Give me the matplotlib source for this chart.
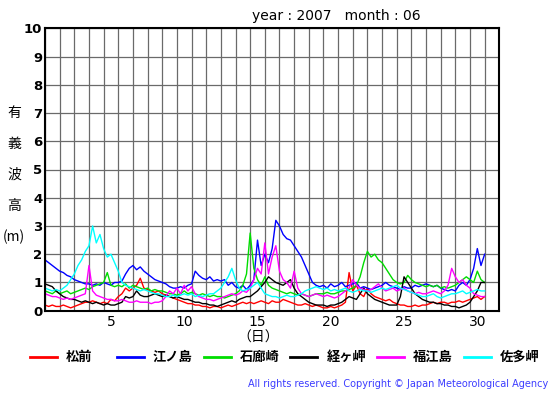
import numpy as np
import matplotlib
matplotlib.use("Agg")
import matplotlib.pyplot as plt
from matplotlib.lines import Line2D
from matplotlib.ticker import MultipleLocator

plt.rcParams['font.family'] = ['DejaVu Sans', 'Noto Sans CJK JP']
jp = ['Noto Sans CJK JP', 'DejaVu Sans']

# 6-hourly readings, 1 June 00h .. 1 July 00h
hours = np.arange(0, 721, 6)
days = hours / 24.0

stations = ["松前", "江ノ島", "石廊崎", "経ヶ岬", "福江島", "佐多岬"]
colors = ["#ff0000", "#0000ff", "#00dd00", "#000000", "#ff00ff", "#00ffff"]

# significant wave height (m)
matsumae = [
    0.2, 0.15, 0.2, 0.15,   0.15, 0.2, 0.15, 0.1,   0.15, 0.2, 0.25, 0.3,
    0.3, 0.35, 0.3, 0.25,   0.3, 0.25, 0.4, 0.35,   0.5, 0.6, 0.8, 0.7,
    0.8, 0.9, 1.15, 0.8,    0.75, 0.7, 0.65, 0.7,   0.6, 0.55, 0.5, 0.45,
    0.4, 0.35, 0.3, 0.25,   0.25, 0.2, 0.2, 0.15,   0.15, 0.1, 0.15, 0.15,
    0.1, 0.15, 0.2, 0.15,   0.2, 0.25, 0.3, 0.25,   0.3, 0.25, 0.3, 0.35,
    0.3, 0.25, 0.35, 0.3,   0.3, 0.4, 0.35, 0.3,    0.25, 0.2, 0.2, 0.25,
    0.2, 0.15, 0.2, 0.15,   0.1, 0.1, 0.15, 0.1,    0.15, 0.2, 0.3, 1.35,
    0.7, 0.9, 0.6, 0.5,     0.8, 0.6, 0.5, 0.45,    0.4, 0.35, 0.4, 0.3,
    0.25, 0.2, 0.2, 0.15,   0.15, 0.2, 0.15, 0.2,   0.2, 0.25, 0.3, 0.25,
    0.3, 0.3, 0.25, 0.3,    0.3, 0.35, 0.3, 0.35,   0.4, 0.45, 0.5, 0.4,
    0.5,
]
enoshima = [
    1.8, 1.7, 1.6, 1.5,     1.4, 1.35, 1.25, 1.2,   1.1, 1.05, 1.0, 0.95,
    0.95, 0.9, 0.95, 0.9,   1.0, 0.95, 0.9, 1.0,    1.0, 1.05, 1.3, 1.5,
    1.6, 1.45, 1.55, 1.4,   1.3, 1.2, 1.1, 1.05,    1.0, 0.95, 0.85, 0.8,
    0.8, 0.85, 0.8, 0.9,    0.95, 1.4, 1.25, 1.15,  1.1, 1.2, 1.05, 1.1,
    1.05, 1.1, 0.9, 1.0,    0.85, 0.8, 0.9, 0.75,   0.9, 1.1, 2.5, 1.6,
    2.0, 1.7, 2.2, 3.2,     3.0, 2.7, 2.55, 2.5,    2.3, 2.1, 1.9, 1.6,
    1.3, 1.0, 0.9, 0.85,    0.9, 0.8, 0.95, 0.85,   0.9, 1.0, 0.85, 0.9,
    0.95, 1.0, 0.8, 0.85,   0.8, 0.75, 0.8, 0.85,   0.9, 1.0, 0.9, 0.85,
    0.8, 0.75, 0.85, 0.8,   0.8, 0.9, 0.85, 0.9,    0.95, 0.9, 0.85, 0.9,
    0.8, 0.75, 0.7, 0.75,   0.7, 0.9, 1.0, 0.9,     1.1, 1.5, 2.2, 1.6,
    2.0,
]
irozaki = [
    0.7, 0.65, 0.6, 0.7,    0.6, 0.65, 0.7, 0.6,    0.65, 0.7, 0.75, 0.8,
    0.75, 0.85, 0.9, 0.95,  1.0, 1.35, 0.9, 0.85,   0.9, 0.85, 0.95, 0.8,
    0.9, 0.85, 0.8, 0.75,   0.8, 0.7, 0.75, 0.7,    0.7, 0.65, 0.6, 0.6,
    0.55, 0.6, 0.7, 0.6,    0.65, 0.6, 0.55, 0.6,   0.55, 0.5, 0.55, 0.5,
    0.5, 0.45, 0.5, 0.55,   0.6, 0.7, 0.9, 1.3,     2.75, 1.5, 1.1, 0.9,
    1.2, 0.9, 0.8, 0.75,    0.7, 0.65, 0.6, 0.65,   0.6, 0.55, 0.6, 0.55,
    0.5, 0.55, 0.6, 0.6,    0.6, 0.65, 0.6, 0.6,    0.65, 0.7, 0.7, 0.75,
    0.8, 0.9, 1.2, 1.7,     2.1, 1.9, 2.0, 1.8,     1.7, 1.5, 1.3, 1.1,
    1.0, 0.95, 1.0, 1.25,   1.1, 1.0, 0.95, 0.9,    0.85, 0.9, 0.85, 0.9,
    0.8, 0.85, 0.8, 0.85,   0.9, 1.0, 1.1, 1.2,     1.1, 1.0, 1.4, 1.1,
    1.0,
]
kyogamisaki = [
    0.95, 0.9, 0.85, 0.7,   0.6, 0.5, 0.45, 0.4,    0.4, 0.35, 0.3, 0.35,
    0.3, 0.25, 0.3, 0.25,   0.2, 0.25, 0.2, 0.2,    0.25, 0.3, 0.5, 0.45,
    0.5, 0.7, 0.55, 0.5,    0.5, 0.55, 0.6, 0.55,   0.5, 0.55, 0.5, 0.45,
    0.5, 0.45, 0.4, 0.4,    0.35, 0.3, 0.3, 0.25,   0.25, 0.2, 0.2, 0.15,
    0.2, 0.25, 0.3, 0.35,   0.3, 0.4, 0.45, 0.5,    0.5, 0.6, 0.7, 0.85,
    1.0, 1.2, 1.1, 1.0,     0.95, 0.9, 1.0, 1.1,    0.8, 0.6, 0.5, 0.4,
    0.3, 0.25, 0.2, 0.2,    0.2, 0.15, 0.2, 0.2,    0.25, 0.3, 0.4, 0.5,
    0.45, 0.4, 0.6, 0.8,    0.6, 0.5, 0.4, 0.35,    0.3, 0.25, 0.2, 0.2,
    0.2, 0.5, 1.2, 1.0,     0.8, 0.6, 0.5, 0.4,     0.35, 0.3, 0.3, 0.25,
    0.25, 0.2, 0.2, 0.15,   0.15, 0.1, 0.15, 0.2,   0.3, 0.5, 0.7, 1.0,
    1.0,
]
fukuejima = [
    0.6, 0.55, 0.5, 0.5,    0.45, 0.4, 0.45, 0.4,   0.45, 0.5, 0.55, 0.6,
    1.6, 0.7, 0.55, 0.5,    0.45, 0.4, 0.4, 0.35,   0.35, 0.4, 0.35, 0.3,
    0.3, 0.35, 0.3, 0.3,    0.3, 0.25, 0.3, 0.3,    0.35, 0.5, 0.7, 0.6,
    0.8, 0.6, 0.9, 0.7,     0.85, 0.6, 0.5, 0.45,   0.4, 0.4, 0.35, 0.4,
    0.45, 0.5, 0.55, 0.6,   0.55, 0.6, 0.7, 0.65,   0.8, 1.1, 1.5, 1.3,
    2.4, 1.3, 1.9, 2.3,     1.4, 1.1, 1.0, 0.8,     1.4, 0.8, 0.6, 0.55,
    0.5, 0.55, 0.6, 0.55,   0.5, 0.55, 0.5, 0.45,   0.5, 0.6, 0.7, 0.8,
    1.1, 0.9, 0.8, 0.75,    0.7, 0.75, 0.85, 0.95,  0.8, 0.7, 0.75, 0.8,
    0.7, 0.75, 0.8, 0.7,    0.65, 0.6, 0.65, 0.6,   0.6, 0.65, 0.7, 0.65,
    0.6, 0.7, 0.9, 1.5,     1.2, 1.0, 1.1, 0.9,     0.8, 0.6, 0.55, 0.5,
    0.5,
]
satamisaki = [
    0.8, 0.75, 0.7, 0.75,   0.7, 0.8, 0.9, 1.1,     1.3, 1.6, 1.8, 2.1,
    2.3, 3.0, 2.4, 2.7,     2.2, 1.9, 2.0, 1.7,     1.4, 1.0, 0.9, 0.85,
    0.8, 0.75, 0.7, 0.75,   0.7, 0.65, 0.6, 0.6,    0.55, 0.5, 0.5, 0.55,
    0.5, 0.55, 0.6, 0.55,   0.6, 0.5, 0.55, 0.5,    0.55, 0.6, 0.6, 0.7,
    0.8, 1.0, 1.2, 1.5,     1.1, 0.8, 0.7, 0.75,    0.8, 0.9, 1.0, 0.8,
    0.6, 0.55, 0.5, 0.5,    0.45, 0.5, 0.55, 0.5,   0.5, 0.55, 0.6, 0.7,
    0.75, 0.8, 0.85, 0.8,   0.75, 0.8, 0.7, 0.75,   0.7, 0.75, 0.8, 0.7,
    0.65, 0.7, 0.75, 0.7,   0.7, 0.65, 0.7, 0.75,   0.8, 0.75, 0.8, 0.85,
    0.9, 0.8, 0.75, 0.7,    0.65, 0.6, 0.55, 0.5,   0.5, 0.55, 0.6, 0.5,
    0.45, 0.5, 0.55, 0.6,   0.6, 0.65, 0.7, 0.6,    0.65, 0.7, 0.75, 0.7,
    0.7,
]
series = [matsumae, enoshima, irozaki, kyogamisaki, fukuejima, satamisaki]

day_ticks = [5, 10, 15, 20, 25, 30]

W, H = 555, 395
fig = plt.figure(figsize=(W / 100, H / 100), dpi=100)
ax = fig.add_axes([45 / W, 1 - 310.7 / H, 454.3 / W, 282.4 / H])

for vals, c in zip(series, colors):
    ax.plot(days, vals, color=c, lw=1.0)

ax.set_xlim(0, 31)
ax.set_ylim(0, 10)
ax.set_xticks([d - 0.5 for d in day_ticks])
ax.set_xticklabels([str(d) for d in day_ticks])
ax.xaxis.set_minor_locator(MultipleLocator(1))
ax.set_yticks(range(0, 11))
ax.tick_params(which='both', length=0)
ax.tick_params(axis='x', labelsize=10, pad=3)
ax.tick_params(axis='y', labelsize=9.5, pad=2)
for lab in ax.get_yticklabels():
    lab.set_fontweight('bold')
ax.grid(False)
ax.grid(True, which='minor', axis='x', color='#6a6a6a', lw=0.9)
ax.grid(True, which='major', axis='y', color='#6a6a6a', lw=0.9)
ax.set_axisbelow(True)
for sp in ax.spines.values():
    sp.set_linewidth(1.5)

fig.text(336 / W, 1 - 16 / H, "year : 2007   month : 06", ha='center', va='center', fontsize=10)

for i, ch in enumerate(["有", "義", "波", "高", "(m)"]):
    fig.text(14 / W, 1 - (113 + 31 * i) / H, ch, ha='center', va='center',
             fontsize=10, family=jp)

fig.text(258 / W, 1 - 338 / H, "（日）", ha='center', va='center', fontsize=10, family=jp)

# legend row
for i, (name, c) in enumerate(zip(stations, colors)):
    x0 = 30 + 86.8 * i
    fig.add_artist(Line2D([x0 / W, (x0 + 27) / W], [1 - 357 / H, 1 - 357 / H],
                          color=c, lw=2, transform=fig.transFigure))
    fig.text((x0 + 36) / W, 1 - 357 / H, name, ha='left', va='center',
             fontsize=9.5, fontweight='bold', family=jp)

fig.text(548 / W, 1 - 384 / H,
         "All rights reserved. Copyright © Japan Meteorological Agency",
         ha='right', va='center', fontsize=7, color='#3c3cff')

fig.savefig("out.png", dpi=100)
